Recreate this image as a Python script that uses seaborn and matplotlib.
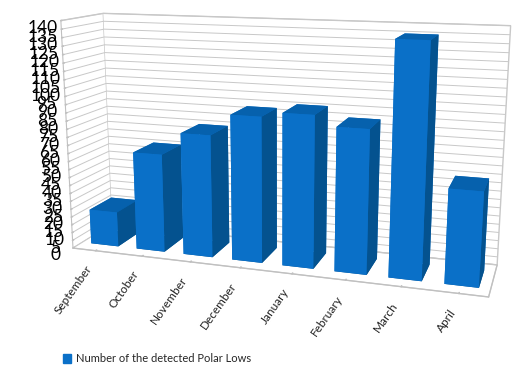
import numpy as np
import matplotlib
matplotlib.use("Agg")
import matplotlib.pyplot as plt
import matplotlib.patches as mpatches
import seaborn as sns

months = ['September', 'October', 'November', 'December',
          'January', 'February', 'March', 'April']
polar_lows = [22, 61, 75, 88, 91, 85, 135, 55]
z_ticks = list(range(0, 145, 5))
series_name = 'Number of the detected Polar Lows'

sns.set_theme(style='white')
plt.rcParams['font.family'] = ['Lato', 'DejaVu Sans']

blue_front = '#0a70c8'
blue_top = '#0661ad'
blue_side = '#04528f'

fig = plt.figure(figsize=(5.25, 3.65), dpi=100)
ax = fig.add_axes([-0.19, -0.075, 1.42, 1.33], projection='3d')
ax.set_proj_type('persp', focal_length=0.35)
ax.view_init(elev=13, azim=-72)
ax.set_box_aspect((4.95, 1.0, 2.75))

x = np.arange(len(months))
w, d = 0.6, 0.55
# face order: bottom, top, front, back, left, right
face_colors = [blue_side, blue_top, blue_front, blue_front, blue_front, blue_side] * len(months)
ax.bar3d(x - w / 2, np.full(len(x), 0.5 - d / 2), np.zeros(len(x)), w, d, polar_lows,
         color=face_colors, shade=False, edgecolor='none')

ax.set_xlim(-0.5, len(months) - 0.5)
ax.set_ylim(0, 1)
ax.set_zlim(0, 140)

ax.set_zticks(z_ticks)
ax.set_zticklabels([str(t) for t in z_ticks], fontsize=12.5, color='black')
ax.set_xticks(x)
ax.set_xticklabels(months, fontsize=8.5, color='#222222', rotation=55, ha='right', va='top')
ax.set_yticks([])

for a in (ax.xaxis, ax.yaxis, ax.zaxis):
    a.set_pane_color((1, 1, 1, 1))
    a._axinfo['grid']['color'] = '#c8c8c8'
    a._axinfo['grid']['linewidth'] = 0.7
    a._axinfo['tick']['inward_factor'] = 0.0
    a._axinfo['tick']['outward_factor'] = 0.3
    a.line.set_color('#c0c0c0')
    a.line.set_linewidth(0.8)
ax.xaxis.pane.set_edgecolor('#c8c8c8')
ax.yaxis.pane.set_edgecolor('#c8c8c8')
ax.zaxis.pane.set_edgecolor('#c8c8c8')
ax.xaxis.gridlines.set_visible(False)
ax.yaxis.gridlines.set_visible(False)
ax.zaxis.set_ticks_position('lower')
ax.tick_params(axis='z', pad=0, colors='black', color='#c0c0c0')
ax.tick_params(axis='x', pad=1, color='#c0c0c0')

handle = mpatches.Patch(color=blue_front, label=series_name)
fig.legend(handles=[handle], loc='lower left', bbox_to_anchor=(0.1, -0.025),
           frameon=False, fontsize=8, handlelength=0.8, handleheight=0.8,
           handletextpad=0.4)

fig.savefig('out.png', dpi=100)
